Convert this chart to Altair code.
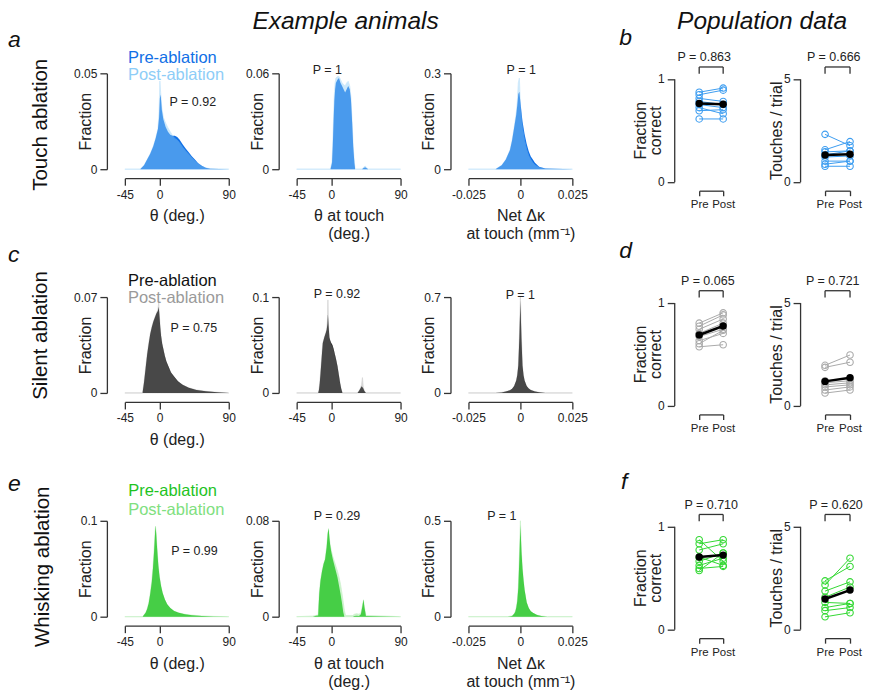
import altair as alt
import pandas as pd

FONT = "Liberation Sans"
AX = "#333333"
TXT = "#222222"

# ---------------- histogram data ----------------
# Touch ablation
TA_THETA_X = [-45, -25, -20, -16, -12, -8, -5, -2, -0.5, 0.5, 1.5, 3, 5, 8, 11, 14, 17, 20, 23, 26, 30, 34, 38, 42, 46, 50, 55, 60, 66, 90]
TA_THETA_PRE = [0, 0, 0.002, 0.005, 0.008, 0.012, 0.016, 0.021, 0.027, 0.037, 0.039, 0.031, 0.026, 0.022, 0.0195, 0.018, 0.0175, 0.0174, 0.0168, 0.0155, 0.013, 0.0108, 0.0088, 0.0068, 0.005, 0.0033, 0.0018, 0.0008, 0.0002, 0]
TA_THETA_POST = [0, 0, 0.002, 0.005, 0.008, 0.012, 0.016, 0.021, 0.03, 0.046, 0.040, 0.032, 0.027, 0.024, 0.0215, 0.0195, 0.0175, 0.016, 0.0152, 0.0138, 0.0115, 0.0095, 0.0078, 0.006, 0.0044, 0.003, 0.0016, 0.0007, 0.0002, 0]

TA_TOUCH_X = [-45, -1, 1, 2, 3, 4, 5, 6, 8, 10, 12, 14, 16, 18, 20, 22, 24, 25.5, 27, 28.5, 30, 31, 40, 42, 44, 46, 48, 90]
TA_TOUCH_PRE = [0, 0, 0.004, 0.015, 0.03, 0.043, 0.05, 0.054, 0.056, 0.057, 0.054, 0.052, 0.05, 0.048, 0.05, 0.052, 0.05, 0.044, 0.03, 0.014, 0.004, 0, 0, 0.0008, 0.0012, 0.0006, 0, 0]
TA_TOUCH_POST = [0, 0, 0.005, 0.017, 0.033, 0.047, 0.054, 0.057, 0.058, 0.058, 0.056, 0.054, 0.053, 0.052, 0.054, 0.055, 0.052, 0.045, 0.03, 0.014, 0.004, 0, 0, 0.0012, 0.002, 0.001, 0, 0]

TA_DK_X = [-0.025, -0.012, -0.009, -0.007, -0.005, -0.004, -0.003, -0.002, -0.0015, -0.001, -0.0005, 0, 0.0005, 0.001, 0.002, 0.003, 0.004, 0.005, 0.006, 0.007, 0.009, 0.012, 0.025]
TA_DK_PRE = [0, 0, 0.012, 0.03, 0.06, 0.09, 0.13, 0.17, 0.2, 0.235, 0.242, 0.21, 0.18, 0.15, 0.11, 0.08, 0.056, 0.04, 0.03, 0.02, 0.008, 0.002, 0]
TA_DK_POST = [0, 0, 0.012, 0.03, 0.06, 0.09, 0.13, 0.175, 0.21, 0.27, 0.285, 0.2, 0.16, 0.13, 0.09, 0.062, 0.042, 0.03, 0.02, 0.013, 0.005, 0.001, 0]

# Silent ablation
SA_THETA_X = [-45, -22, -20, -18, -16, -14, -12, -10, -8, -6, -4, -2, -1, 0, 1, 2, 3.5, 5, 7, 9, 12, 15, 19, 24, 30, 38, 48, 60, 75, 90]
SA_THETA_PRE = [0, 0, 0.008, 0.018, 0.028, 0.036, 0.043, 0.048, 0.052, 0.055, 0.058, 0.06, 0.063, 0.056, 0.048, 0.042, 0.036, 0.032, 0.027, 0.023, 0.019, 0.015, 0.012, 0.0085, 0.006, 0.0038, 0.0022, 0.0012, 0.0005, 0]
SA_THETA_POST = [0, 0, 0.008, 0.018, 0.028, 0.036, 0.043, 0.048, 0.052, 0.055, 0.058, 0.061, 0.066, 0.055, 0.047, 0.041, 0.035, 0.031, 0.026, 0.022, 0.018, 0.0145, 0.0115, 0.0082, 0.0058, 0.0037, 0.0022, 0.0012, 0.0005, 0]

SA_TOUCH_X = [-45, -17, -16, -15, -14, -13, -12, -11, -9, -7, -6, -5, -4.4, -3.5, -2.5, -1.5, 0, 1.5, 3, 4.5, 6, 8, 10, 11.5, 13, 14.5, 34, 36, 38, 39.5, 40.5, 41.5, 43, 45, 90]
SA_TOUCH_PRE = [0, 0, 0.003, 0.01, 0.02, 0.031, 0.042, 0.052, 0.058, 0.063, 0.066, 0.072, 0.082, 0.07, 0.058, 0.055, 0.052, 0.05, 0.046, 0.041, 0.036, 0.028, 0.018, 0.01, 0.004, 0, 0, 0.002, 0.005, 0.007, 0.006, 0.005, 0.002, 0, 0]
SA_TOUCH_POST = [0, 0, 0.003, 0.01, 0.02, 0.031, 0.042, 0.052, 0.058, 0.063, 0.066, 0.075, 0.097, 0.068, 0.057, 0.054, 0.05, 0.048, 0.044, 0.039, 0.034, 0.026, 0.016, 0.009, 0.003, 0, 0, 0.002, 0.005, 0.009, 0.016, 0.006, 0.002, 0, 0]

SA_DK_X = [-0.025, -0.012, -0.009, -0.007, -0.005, -0.004, -0.003, -0.002, -0.0015, -0.001, -0.0005, 0, 0.0005, 0.001, 0.0015, 0.002, 0.003, 0.004, 0.005, 0.007, 0.009, 0.012, 0.025]
SA_DK_PRE = [0, 0, 0.004, 0.01, 0.02, 0.03, 0.05, 0.09, 0.13, 0.2, 0.4, 0.675, 0.4, 0.2, 0.13, 0.09, 0.05, 0.032, 0.022, 0.011, 0.005, 0, 0]
SA_DK_POST = [0, 0, 0.004, 0.01, 0.019, 0.028, 0.047, 0.085, 0.125, 0.19, 0.4, 0.7, 0.4, 0.19, 0.125, 0.085, 0.047, 0.03, 0.02, 0.01, 0.004, 0, 0]

# Whisking ablation
WA_THETA_X = [-45, -22, -20, -18, -16, -14, -12, -10, -8.5, -7, -6, -5.2, -4.4, -3.5, -2.5, -1.5, 0, 2, 4, 7, 10, 14, 19, 25, 33, 42, 55, 70, 90]
WA_THETA_PRE = [0, 0, 0.002, 0.004, 0.008, 0.014, 0.024, 0.036, 0.05, 0.068, 0.083, 0.095, 0.088, 0.076, 0.064, 0.053, 0.042, 0.032, 0.025, 0.018, 0.013, 0.009, 0.006, 0.004, 0.0025, 0.0016, 0.0008, 0.0003, 0]
WA_THETA_POST = [0, 0, 0.002, 0.004, 0.008, 0.014, 0.024, 0.037, 0.051, 0.069, 0.084, 0.094, 0.087, 0.075, 0.063, 0.052, 0.041, 0.031, 0.024, 0.017, 0.0125, 0.0088, 0.0058, 0.0039, 0.0025, 0.0016, 0.0008, 0.0003, 0]

WA_TOUCH_X = [-45, -24, -20, -17, -16.5, -15.5, -14, -12, -10, -8, -6, -4.5, -3.5, -2.5, -1.5, 0, 2, 4, 6, 8, 10, 12, 14, 15.5, 17, 18.5, 28, 30, 33, 36, 38.5, 40.5, 41.8, 43, 45, 90]
WA_TOUCH_PRE = [0, 0, 0.0008, 0.001, 0.008, 0.02, 0.03, 0.038, 0.044, 0.048, 0.058, 0.07, 0.074, 0.066, 0.06, 0.054, 0.048, 0.043, 0.038, 0.033, 0.026, 0.019, 0.011, 0.004, 0, 0, 0, 0.0006, 0.0008, 0.0005, 0.002, 0.009, 0.0146, 0.008, 0.0005, 0]
WA_TOUCH_POST = [0, 0.0005, 0.001, 0.0015, 0.008, 0.02, 0.03, 0.038, 0.044, 0.048, 0.058, 0.069, 0.072, 0.065, 0.06, 0.055, 0.05, 0.046, 0.042, 0.038, 0.033, 0.027, 0.019, 0.012, 0.005, 0.001, 0.001, 0.002, 0.0025, 0.002, 0.003, 0.009, 0.0135, 0.008, 0.001, 0]

WA_DK_X = [-0.025, -0.006, -0.004, -0.003, -0.0025, -0.002, -0.0015, -0.001, -0.0005, 0, 0.0005, 0.001, 0.0015, 0.002, 0.003, 0.004, 0.005, 0.006, 0.008, 0.01, 0.013, 0.025]
WA_DK_PRE = [0, 0, 0.004, 0.015, 0.025, 0.045, 0.08, 0.15, 0.3, 0.48, 0.34, 0.25, 0.19, 0.14, 0.075, 0.045, 0.028, 0.02, 0.009, 0.004, 0, 0]
WA_DK_POST = [0, 0, 0.004, 0.015, 0.025, 0.045, 0.08, 0.15, 0.31, 0.5, 0.33, 0.24, 0.18, 0.13, 0.07, 0.042, 0.026, 0.018, 0.008, 0.003, 0, 0]

# ---------------- population data (one value per animal) ----------------
TOUCH_FC_PRE = [0.87, 0.845, 0.81, 0.78, 0.75, 0.72, 0.69, 0.61]
TOUCH_FC_POST = [0.91, 0.89, 0.78, 0.75, 0.72, 0.66, 0.70, 0.61]
TOUCH_TT_PRE = [2.3, 1.55, 1.45, 1.3, 1.2, 1.0, 0.85, 0.75]
TOUCH_TT_POST = [1.75, 1.95, 1.5, 1.5, 1.25, 1.0, 1.0, 0.75]
SILENT_FC_PRE = [0.80, 0.77, 0.74, 0.70, 0.67, 0.63, 0.60, 0.57]
SILENT_FC_POST = [0.90, 0.88, 0.84, 0.80, 0.74, 0.70, 0.73, 0.59]
SILENT_TT_PRE = [1.95, 1.85, 1.2, 1.1, 1.0, 0.9, 0.75, 0.6]
SILENT_TT_POST = [2.45, 2.1, 1.3, 1.2, 1.1, 1.0, 0.9, 0.75]
WHISK_FC_PRE = [0.87, 0.83, 0.77, 0.70, 0.66, 0.62, 0.59, 0.57]
WHISK_FC_POST = [0.66, 0.87, 0.83, 0.62, 0.74, 0.69, 0.61, 0.74]
WHISK_TT_PRE = [2.35, 2.15, 1.85, 1.55, 1.3, 1.05, 0.9, 0.6]
WHISK_TT_POST = [3.05, 3.45, 2.3, 2.05, 1.25, 1.25, 1.05, 0.8]

# P values
HIST_P = [["P = 0.92", "P = 1", "P = 1"], ["P = 0.75", "P = 0.92", "P = 1"], ["P = 0.99", "P = 0.29", "P = 1"]]
POP_P = [["P = 0.863", "P = 0.666"], ["P = 0.065", "P = 0.721"], ["P = 0.710", "P = 0.620"]]

ROW_LABELS = ["Touch ablation", "Silent ablation", "Whisking ablation"]
LETTERS = [["a", "b"], ["c", "d"], ["e", "f"]]
THETA_TICKS = [-45, 0, 90]
DK_TICKS = [-0.025, 0, 0.025]

# colours: (pre, post, post opacity, population colour)
COLS = [("#1170e6", "#8ecdf7", 0.45, "#3d9df0"),
        ("#111111", "#9a9a9a", 0.40, "#aaaaaa"),
        ("#1fc31f", "#80e080", 0.40, "#33d833")]

LABEL_EXPR = "datum.value < 0 ? '-' + toString(-datum.value) : toString(datum.value)"


def x_axis(values, title):
    return alt.Axis(values=values, labelExpr=LABEL_EXPR, title=title,
                    offset=9, tickSize=7, labelPadding=4, titlePadding=7.5,
                    titleLineHeight=18, labelFlush=False, labelOverlap=False,
                    grid=False, domainColor=AX, tickColor=AX, domainWidth=1.3,
                    tickWidth=1.3, labelFontSize=12, titleFontSize=16,
                    titleFontWeight="normal", labelColor=TXT, titleColor=TXT,
                    labelFont=FONT, titleFont=FONT)


def hist_panel(xs, pre, post, cols, xdom, xticks, ymax, xtitle, ptxt, px, py,
               legend=None, title=None):
    df = pd.DataFrame({"x": xs, "pre": pre, "post": post})
    xsc = alt.Scale(domain=xdom, nice=False, zero=False)
    ysc = alt.Scale(domain=[0, ymax], nice=False, zero=True)
    xa = x_axis(xticks, xtitle)
    ya = alt.Axis(values=[0, ymax], format="~g", title="Fraction", offset=18,
                  tickSize=7, labelPadding=3, titleX=-16.6, titleY=48,
                  titleAlign="center", titleBaseline="alphabetic", grid=False,
                  domainColor=AX, tickColor=AX, domainWidth=1.3, tickWidth=1.3,
                  labelFontSize=12, titleFontSize=16, titleFontWeight="normal",
                  labelColor=TXT, titleColor=TXT, labelFont=FONT, titleFont=FONT)
    X = lambda f: alt.X(f, scale=xsc, axis=xa)
    Y = lambda f: alt.Y(f, scale=ysc, axis=ya)
    pre_l = alt.Chart(df).mark_area(color=cols[0]).encode(x=X("x:Q"), y=Y("pre:Q"))
    post_l = alt.Chart(df).mark_area(color=cols[1], opacity=cols[2], stroke=cols[1],
                                     strokeWidth=0.8).encode(x=X("x:Q"), y=Y("post:Q"))
    tdf = pd.DataFrame({"x": [px], "y": [py], "t": [ptxt]})
    p_l = alt.Chart(tdf).mark_text(font=FONT, fontSize=12.5, color=TXT, align="center",
                                   baseline="middle").encode(x=X("x:Q"), y=Y("y:Q"), text="t:N")
    layers = [pre_l, post_l, p_l]
    if legend is not None:
        lx, ly_pre, ly_post = legend
        for txt, yy, c in (("Pre-ablation", ly_pre, cols[0]), ("Post-ablation", ly_post, cols[1])):
            ldf = pd.DataFrame({"x": [lx], "y": [yy], "t": [txt]})
            layers.append(alt.Chart(ldf).mark_text(font=FONT, fontSize=16.5, color=c, align="left",
                                                   baseline="middle").encode(x=X("x:Q"), y=Y("y:Q"), text="t:N"))
    ch = alt.layer(*layers).properties(width=104, height=96)
    if title is not None:
        ch = ch.properties(title=title)
    return ch


def pop_panel(pre, post, col, ymax, ytitle, ytx, ptxt, px, width, title=None):
    n = len(pre)
    df = pd.DataFrame({"animal": list(range(n)) * 2, "xp": [0] * n + [1] * n, "v": pre + post})
    xsc = alt.Scale(domain=[0, 1], nice=False, zero=False)
    ysc = alt.Scale(domain=[0, ymax], range=[108.5, 5.5], nice=False, zero=True)
    xa = alt.Axis(values=[0, 1], labelExpr="datum.value == 0 ? 'Pre' : 'Post'", title=None,
                  offset=9, tickSize=5, labelPadding=3, labelFlush=False, labelOverlap=False,
                  grid=False, domainColor=AX, tickColor=AX, domainWidth=1.3, tickWidth=1.3,
                  labelFontSize=11.5, labelColor=TXT, labelFont=FONT)
    ya = alt.Axis(values=[0, ymax], format="~g", title=ytitle, offset=25, tickSize=7,
                  labelPadding=3, titleX=ytx, titleY=57, titleAlign="center",
                  titleBaseline="alphabetic", titleLineHeight=15, grid=False,
                  domainColor=AX, tickColor=AX, domainWidth=1.3, tickWidth=1.3,
                  labelFontSize=12, titleFontSize=16, titleFontWeight="normal",
                  labelColor=TXT, titleColor=TXT, labelFont=FONT, titleFont=FONT)
    X = lambda f: alt.X(f, scale=xsc, axis=xa)
    Y = lambda f: alt.Y(f, scale=ysc, axis=ya)
    base = alt.Chart(df)
    lines = base.mark_line(color=col, strokeWidth=1).encode(x=X("xp:Q"), y=Y("v:Q"), detail="animal:N")
    pts = base.mark_point(shape="circle", filled=False, color=col, size=42, strokeWidth=1.1,
                          opacity=1).encode(x=X("xp:Q"), y=Y("v:Q"))
    mline = base.mark_line(color="black", strokeWidth=2.5).encode(x=X("xp:Q"), y=Y("mean(v):Q"))
    mpts = base.mark_point(shape="circle", filled=True, color="black", size=55,
                           opacity=1).encode(x=X("xp:Q"), y=Y("mean(v):Q"))
    hdf = pd.DataFrame({"a": [0], "b": [1], "y": [1.115 * ymax]})
    bh = alt.Chart(hdf).mark_rule(color=AX, strokeWidth=1.3).encode(x=X("a:Q"), x2="b:Q", y=Y("y:Q"))
    vdf = pd.DataFrame({"a": [0, 1], "lo": [1.05 * ymax] * 2, "hi": [1.115 * ymax] * 2})
    bv = alt.Chart(vdf).mark_rule(color=AX, strokeWidth=1.3).encode(x=X("a:Q"), y=Y("lo:Q"), y2="hi:Q")
    tdf = pd.DataFrame({"a": [px], "y": [1.21 * ymax], "t": [ptxt]})
    pt = alt.Chart(tdf).mark_text(font=FONT, fontSize=12.5, color=TXT, align="center",
                                  baseline="middle").encode(x=X("a:Q"), y=Y("y:Q"), text="t:N")
    ch = alt.layer(lines, pts, mline, mpts, bh, bv, pt).properties(width=width, height=108.5)
    if title is not None:
        ch = ch.properties(title=title)
    return ch


def spacer(w):
    sdf = pd.DataFrame({"s": [0]})
    return alt.Chart(sdf).mark_point(opacity=0, size=1).encode(
        x=alt.X("s:Q", axis=None), y=alt.Y("s:Q", axis=None)).properties(width=w, height=1)


def letter(txt, dy, dx):
    return alt.TitleParams(txt, anchor="start", frame="group", fontSize=23, fontStyle="italic",
                           fontWeight="normal", font=FONT, color="#111111", baseline="alphabetic",
                           offset=0, dx=dx, dy=dy)


def row_label(txt, offset, dx):
    return alt.TitleParams(txt, orient="left", anchor="middle", frame="group", fontSize=20.5,
                           fontWeight="normal", font=FONT, color="#111111", baseline="alphabetic",
                           offset=offset, dx=dx)


def big_title(txt, dy, dx):
    return alt.TitleParams(txt, anchor="middle", frame="group", fontSize=24.5, fontStyle="italic",
                           fontWeight="normal", font=FONT, color="#111111", baseline="alphabetic",
                           offset=0, dx=dx, dy=dy)


hist_data = [
    [(TA_THETA_X, TA_THETA_PRE, TA_THETA_POST), (TA_TOUCH_X, TA_TOUCH_PRE, TA_TOUCH_POST), (TA_DK_X, TA_DK_PRE, TA_DK_POST)],
    [(SA_THETA_X, SA_THETA_PRE, SA_THETA_POST), (SA_TOUCH_X, SA_TOUCH_PRE, SA_TOUCH_POST), (SA_DK_X, SA_DK_PRE, SA_DK_POST)],
    [(WA_THETA_X, WA_THETA_PRE, WA_THETA_POST), (WA_TOUCH_X, WA_TOUCH_PRE, WA_TOUCH_POST), (WA_DK_X, WA_DK_PRE, WA_DK_POST)],
]
pop_data = [
    [(TOUCH_FC_PRE, TOUCH_FC_POST), (TOUCH_TT_PRE, TOUCH_TT_POST)],
    [(SILENT_FC_PRE, SILENT_FC_POST), (SILENT_TT_PRE, SILENT_TT_POST)],
    [(WHISK_FC_PRE, WHISK_FC_POST), (WHISK_TT_PRE, WHISK_TT_POST)],
]

YMAX = [[0.05, 0.06, 0.3], [0.07, 0.1, 0.7], [0.1, 0.08, 0.5]]
XTITLES = [["\u03b8 (deg.)", ["\u03b8 at touch", "(deg.)"], ["Net \u0394\u03ba", "at touch (mm\u207b\u00b9)"]],
           ["\u03b8 (deg.)", None, None],
           ["\u03b8 (deg.)", ["\u03b8 at touch", "(deg.)"], ["Net \u0394\u03ba", "at touch (mm\u207b\u00b9)"]]]
P_POS = [[(43.3, 0.035), (-5.1, 0.0622), (0.0004, 0.311)],
         [(44.7, 0.0476), (7.4, 0.103), (0.0, 0.714)],
         [(45.4, 0.0686), (7.4, 0.0841), (-0.0089, 0.526)]]
LEGEND_POS = [(-41, 0.0578, 0.049), (-41, 0.0817, 0.0696), (-40.7, 0.131, 0.1115)]
ROW_OFF = [(6.1, -3.5), (6.1, 9.5), (7.7, 2.0)]
LETTER_DY_L = [5.75, -4.05, 4.15]
LETTER_R = [(16.4, -80), (6.2, -80), (13.4, -78.3)]
POP_PX = [[0.21, 0.35], [0.36, 0.31], [0.5, 0.44]]
GAPS = [68, 68, 127, 101.5]

panels = []
for r in range(3):
    cols = COLS[r]
    for c in range(3):
        xs, pre, post = hist_data[r][c]
        xdom = [-45, 90] if c < 2 else [-0.025, 0.025]
        ticks = THETA_TICKS if c < 2 else DK_TICKS
        title = None
        if c == 0:
            title = row_label(ROW_LABELS[r], *ROW_OFF[r])
        elif c == 1 and r == 0:
            title = big_title("Example animals", -10.25, -3)
        elif c == 2:
            title = letter(LETTERS[r][0], LETTER_DY_L[r], -461)
        px, py = P_POS[r][c]
        panels.append(hist_panel(xs, pre, post, cols, xdom, ticks, YMAX[r][c], XTITLES[r][c],
                                 HIST_P[r][c], px, py,
                                 legend=LEGEND_POS[r] if c == 0 else None, title=title))
        panels.append(spacer(GAPS[c]))
    fc_pre, fc_post = pop_data[r][0]
    tt_pre, tt_post = pop_data[r][1]
    dyl, dxl = LETTER_R[r]
    panels.append(pop_panel(fc_pre, fc_post, cols[3], 1, ["Fraction", "correct"], -28.3,
                            POP_P[r][0], POP_PX[r][0], 24,
                            title=letter(LETTERS[r][1], dyl, dxl)))
    panels.append(spacer(GAPS[3]))
    panels.append(pop_panel(tt_pre, tt_post, cols[3], 5, "Touches / trial", -18.5,
                            POP_P[r][1], POP_PX[r][1], 25,
                            title=big_title("Population data", 2.4, -75.5) if r == 0 else None))

chart = alt.concat(*panels, columns=9, spacing={"row": 115, "column": 0},
                   bounds="flush", align="each").properties(
    padding={"left": 0, "top": 0, "right": 0, "bottom": 0},
    background="white",
).configure(font=FONT).configure_view(stroke=None)

chart.save("out.html", embed_options={"renderer": "svg", "actions": False})
